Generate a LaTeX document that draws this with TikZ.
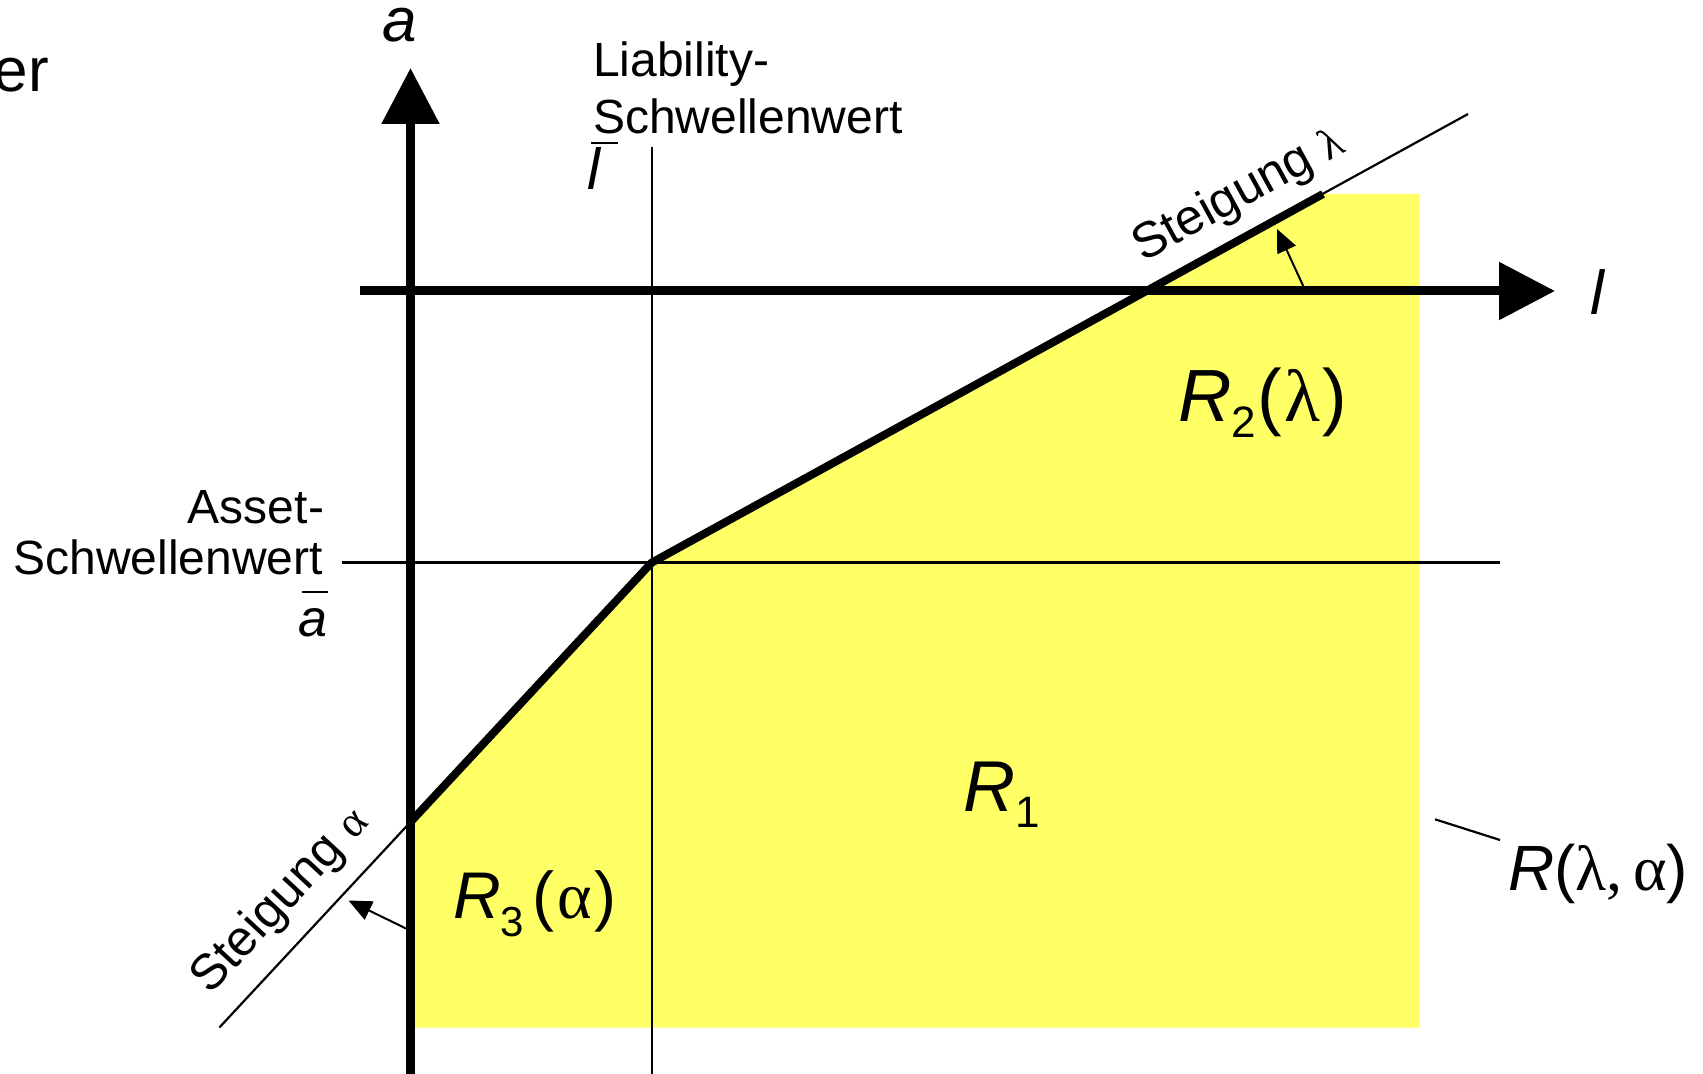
\documentclass[tikz,border=0pt]{standalone}
\usepackage{fontspec}
\setmainfont{Liberation Sans}
\newfontfamily\grk{Liberation Serif}
\usetikzlibrary{arrows.meta}
\newcommand\fs[1]{\fontsize{#1}{#1}\selectfont}
\newcommand\lowsub[3]{\raisebox{-#2}{\fs{#1}#3}}
\definecolor{ylw}{RGB}{255,255,102}
\begin{document}
\begin{tikzpicture}[x=0.5pt,y=-0.5pt,
  lbl/.style={inner sep=0pt, outer sep=0pt},
  guide/.style={line width=1.1pt},
  bar/.style={line width=1.35pt},
  axis/.style={line width=4.5pt, -{Triangle[length=28pt,width=28pt]}},
  curve/.style={line width=4pt, line join=round},
  pointer/.style={line width=1pt, -{Triangle[length=11.5pt,width=10pt]}}]
\useasboundingbox (0,0) rectangle (1703,1074);
% key points
\coordinate (ytip) at (410.5,68);
\coordinate (ybot) at (410.5,1074);
\coordinate (xstart) at (360,291);
\coordinate (xtip) at (1555,291);
\coordinate (A) at (410.5,822);
\coordinate (K) at (651.7,562.6);
\coordinate (E) at (1323,194);
\coordinate (Lend) at (1468,114);
\coordinate (Aend) at (219.4,1027.5);
\coordinate (YR) at (1419.5,194);
\coordinate (YB) at (1419.5,1027.5);
\coordinate (YL) at (410.5,1027.5);
\coordinate (vtop) at (651.7,146.6);
\coordinate (vbot) at (651.7,1074);
\coordinate (hl) at (342,562.6);
\coordinate (hr) at (1500,562.6);
\coordinate (pl0) at (1305.5,291);
\coordinate (pl1) at (1277,229);
\coordinate (pa0) at (406,928.5);
\coordinate (pa1) at (348.5,900.5);
\coordinate (ld0) at (1435,819.3);
\coordinate (ld1) at (1500,840);
% yellow region
\fill[ylw] (A) -- (K) -- (E) -- (YR) -- (YB) -- (YL) -- cycle;
% guide lines
\draw[guide] (vtop) -- (vbot);
\draw[guide] (hl) -- (hr);
\draw[guide] (K) -- (Lend);
\draw[guide] (A) -- (Aend);
\draw[guide] (ld0) -- (ld1);
% thick boundary
\draw[curve] (A) -- (K) -- (E);
% axes
\draw[axis] (ybot) -- (ytip);
\draw[axis] (xstart) -- (xtip);
% slope pointers
\draw[pointer] (pl0) -- (pl1);
\draw[pointer] (pa0) -- (pa1);
% texts
\node[lbl, anchor=base east, font=\fs{31}] (er) at (49,91.5) {er};
\node[lbl, anchor=base, font=\fs{31}\itshape] (alab) at (400,42) {a};
\node[lbl, anchor=base west, font=\fs{31}\itshape] (llab) at (1590,315) {l};
\node[lbl, anchor=base west, font=\fs{24}] (lia1) at (593,76.7) {Liability-};
\node[lbl, anchor=base west, font=\fs{24}] (lia2) at (593,133.3) {Schwellenwert};
\node[lbl, anchor=base west, font=\fs{29}\itshape] (lbar) at (587,190) {l};
\draw[bar] (591,143) -- (618,143);
\node[lbl, anchor=base east, font=\fs{24}] (as1) at (324,523.3) {Asset-};
\node[lbl, anchor=base east, font=\fs{24}] (as2) at (323,575) {Schwellenwert};
\node[lbl, anchor=base west, font=\fs{26}\itshape] (abar) at (298,636.7) {a};
\draw[bar] (302,592) -- (328,592);
\node[lbl, anchor=base west, font=\fs{36}] (r1) at (963,811.7) {\textit{R}\lowsub{22}{8pt}{1}};
\node[lbl, anchor=base west, font=\fs{37}] (r2) at (1178,421.7) {\textit{R}\lowsub{22}{8pt}{2}\kern1pt({\grk\kern1pt λ\kern1pt})};
\node[lbl, anchor=base west, font=\fs{33}] (r3) at (453,918.3) {\textit{R}\lowsub{21}{9pt}{3}\kern4pt({\grk\kern1.5pt α\kern1.5pt})};
\node[lbl, anchor=base west, font=\fs{32}] (rla) at (1508,890) {\textit{R}({\grk λ,\,α})};
\node[lbl, font=\fs{25}, rotate=28.7] (stl) at (1239,195.5) {Steigung {\grk\fs{22}λ}};
\node[lbl, font=\fs{25}, rotate=47.1] (sta) at (281,901) {Steigung {\grk\fs{22}α}};
\end{tikzpicture}
\end{document}
